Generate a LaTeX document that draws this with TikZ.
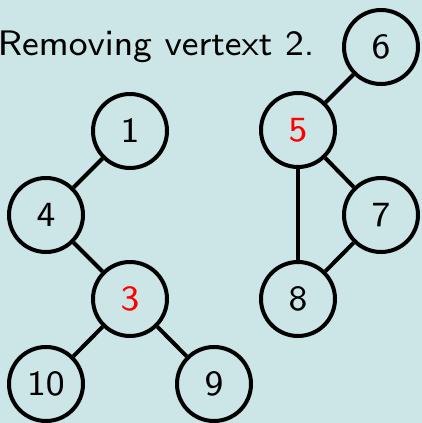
\documentclass[tikz,border=0pt]{standalone}
\definecolor{bgc}{RGB}{204,230,232}
\font\bigss=cmss8 at 17.7pt
\begin{document}
\begin{tikzpicture}[x=0.5pt,y=-0.5pt,
  vtx/.style={circle,draw=black,line width=2pt,minimum size=37pt,inner sep=0pt,font=\bigss},
  hot/.style={text=red},
  edge/.style={draw=black,line width=2pt}]
\fill[bgc] (0,0) rectangle (422,423);
\useasboundingbox (0,0) rectangle (422,423);
\node[anchor=base east,font=\bigss,inner sep=0pt] (title) at (315,55) {Removing vertext 2.};
\node[vtx] (n1) at (130,131) {1};
\node[vtx] (n4) at (46,215) {4};
\node[vtx,hot] (n3) at (130,299) {3};
\node[vtx] (n10) at (46,384) {10};
\node[vtx] (n9) at (214,384) {9};
\node[vtx] (n6) at (381,47) {6};
\node[vtx,hot] (n5) at (298,130) {5};
\node[vtx] (n7) at (381,215) {7};
\node[vtx] (n8) at (298,299) {8};
\draw[edge] (n1) -- (n4);
\draw[edge] (n4) -- (n3);
\draw[edge] (n3) -- (n10);
\draw[edge] (n3) -- (n9);
\draw[edge] (n6) -- (n5);
\draw[edge] (n5) -- (n7);
\draw[edge] (n5) -- (n8);
\draw[edge] (n7) -- (n8);
\end{tikzpicture}
\end{document}
